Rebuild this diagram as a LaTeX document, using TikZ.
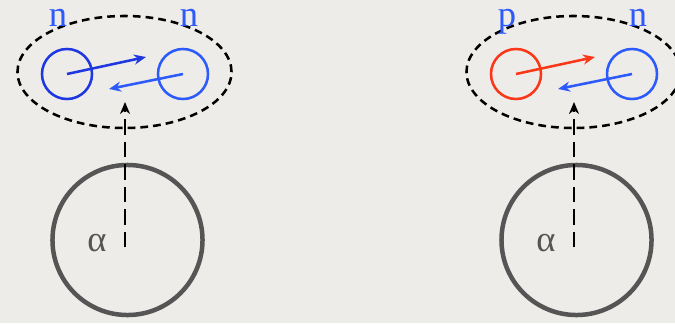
\documentclass[tikz,border=0pt]{standalone}
\usepackage{fontspec}
\setmainfont{Liberation Serif}
\usetikzlibrary{shapes.geometric, arrows.meta, positioning, calc}
\definecolor{bgrey}{RGB}{237,236,233}
\definecolor{nucblue}{RGB}{30,55,225}
\definecolor{lblue}{RGB}{45,90,250}
\definecolor{nucred}{RGB}{250,55,25}
\definecolor{agrey}{RGB}{85,85,85}

\begin{document}
\begin{tikzpicture}[
  x=0.025cm, y=-0.025cm,
  pair/.style={ellipse, draw=black, line width=1.8pt, dash pattern=on 5.5pt off 3.6pt,
    minimum width=5.35cm, minimum height=2.8cm, inner sep=0pt},
  nuc/.style={circle, line width=1.8pt, minimum size=1.25cm, inner sep=0pt},
  alphabox/.style={circle, draw=agrey, line width=3.2pt, minimum size=3.75cm, inner sep=0pt},
  lab/.style={font=\fontsize{26}{28}\selectfont, inner sep=0pt, anchor=base},
  arr/.style={-{Stealth[length=0.3cm, width=0.25cm]}, line width=1.8pt},
  beam/.style={-{Stealth[length=0.3cm, width=0.25cm]}, line width=1.8pt,
    dash pattern=on 11pt off 5pt},
]
  \useasboundingbox (0,0) rectangle (675,323);
  \clip (0,0) rectangle (675,323);
  \fill[bgrey] (0,0) rectangle (675,323);

  % Left: n-n pair
  \node[pair] (pairL) at (124.5,72) {};
  \node[nuc, draw=nucblue] (nL1) at (67,74) {};
  \node[nuc, draw=lblue] (nL2) at (183,74) {};
  \node[lab, text=lblue] (labL1) at (58,26) {n};
  \node[lab, text=lblue] (labL2) at (189,26) {n};
  \coordinate (tipL1) at (146,57);
  \coordinate (tipL2) at (109,89);
  \draw[arr, nucblue] (nL1.center) -- (tipL1);
  \draw[arr, lblue] (nL2.center) -- (tipL2);

  \node[alphabox] (alphaL) at (127.5,240) {};
  \node[lab, text=agrey] (labAL) at (97,251) {α};
  \coordinate (srcL) at (125,247);
  \coordinate (hitL) at (125,102);
  \draw[beam] (srcL) -- (hitL);

  % Right: p-n pair
  \node[pair] (pairR) at (573.5,72) {};
  \node[nuc, draw=nucred] (nR1) at (516,74) {};
  \node[nuc, draw=lblue] (nR2) at (632,74) {};
  \node[lab, text=lblue] (labR1) at (507,26) {p};
  \node[lab, text=lblue] (labR2) at (638,26) {n};
  \coordinate (tipR1) at (595,57);
  \coordinate (tipR2) at (558,89);
  \draw[arr, nucred] (nR1.center) -- (tipR1);
  \draw[arr, lblue] (nR2.center) -- (tipR2);

  \node[alphabox] (alphaR) at (576.5,240) {};
  \node[lab, text=agrey] (labAR) at (546,251) {α};
  \coordinate (srcR) at (574,247);
  \coordinate (hitR) at (574,102);
  \draw[beam] (srcR) -- (hitR);
\end{tikzpicture}
\end{document}
